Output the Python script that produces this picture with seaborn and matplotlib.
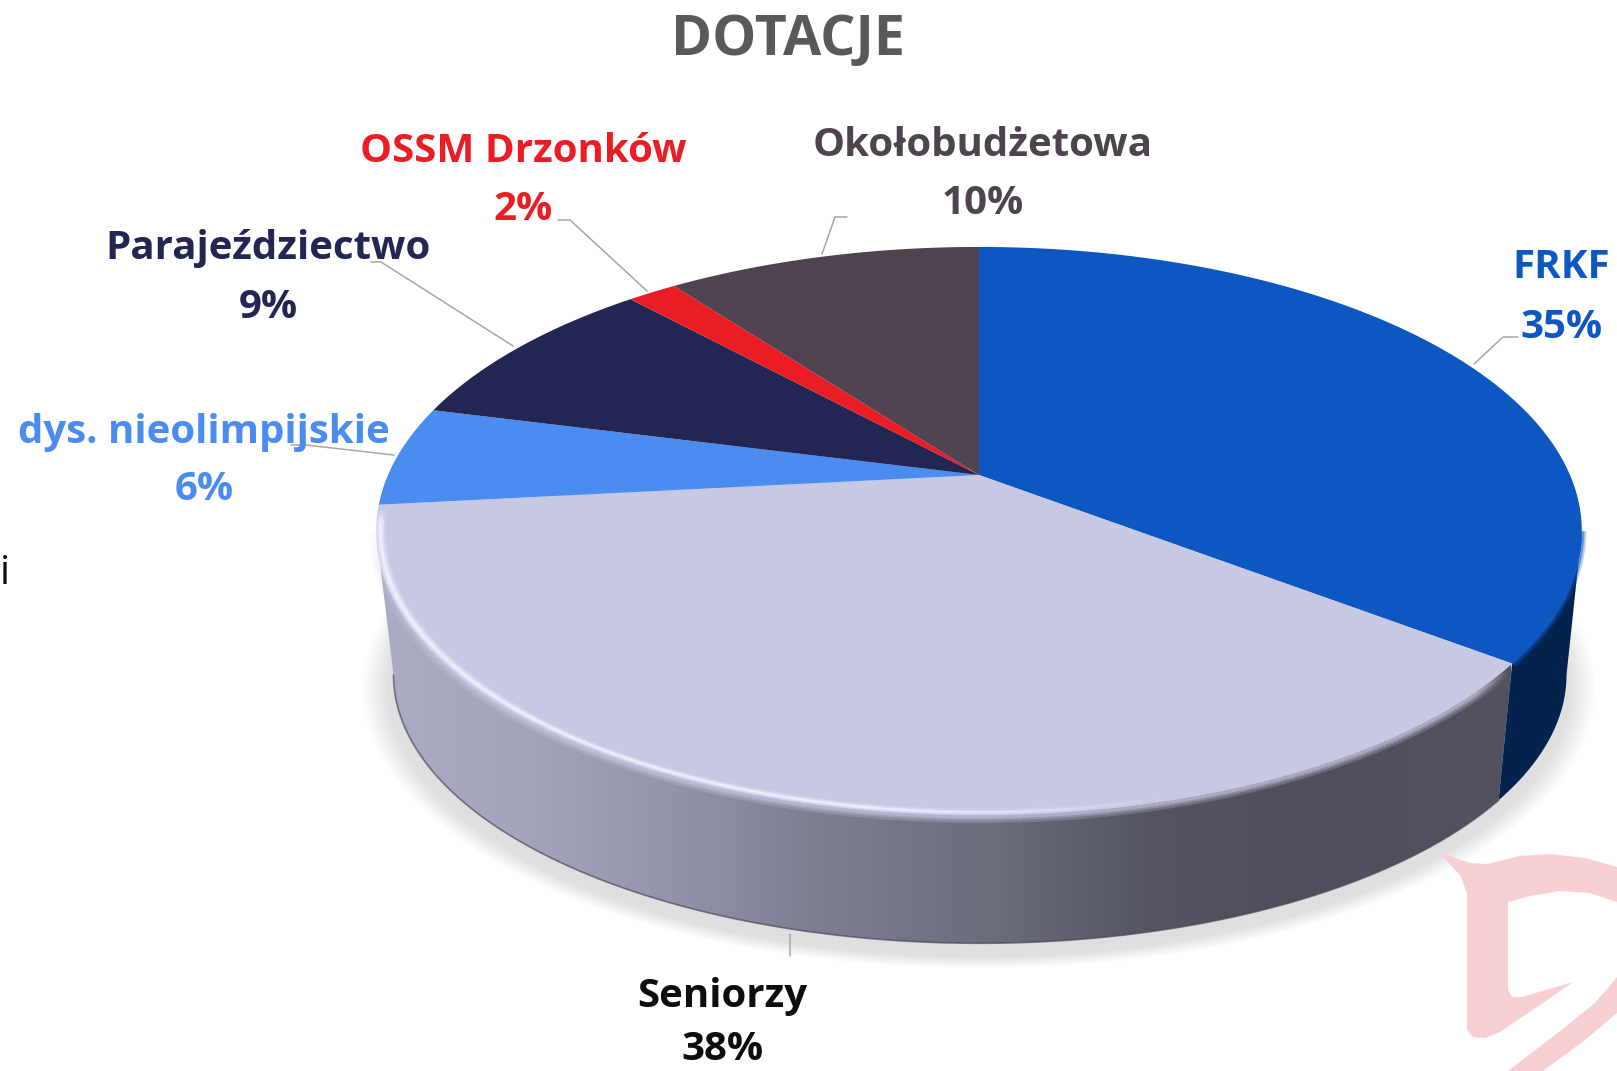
import numpy as np
import seaborn as sns
import matplotlib.pyplot as plt
from matplotlib.collections import LineCollection
from matplotlib.colors import LinearSegmentedColormap, to_rgba
from matplotlib.patches import Polygon
from matplotlib.path import Path
from matplotlib.transforms import Transform

# Chart data
categories = ["FRKF", "Seniorzy", "dys. nieolimpijskie", "Parajeździectwo", "OSSM Drzonków", "Okołobudżetowa"]
values = [35.4, 37.9, 5.7, 9.2, 1.6, 10.2]
slice_colors = ["#0C57C2", "#C7C8E4", "#4A8CF0", "#232653", "#EB1C24", "#4F4350"]
label_colors = ["#0C57C2", "#0D0D0D", "#4A8CF0", "#232653", "#EB1C24", "#4F4350"]
title_text = "DOTACJE"

# Label centres in figure pixels (name line, percent line)
name_pos = [(1561, 268), (722, 997), (204, 433), (268, 248), (523, 151), (983, 146)]
pct_pos = [(1561, 327), (722, 1049), (204, 490), (268, 307), (523, 209), (983, 203)]

# Leader lines in figure pixels
leaders = [
    [(1474, 364), (1503, 337), (1518, 337)],
    [(790, 934), (790, 956)],
    [(394, 455), (306, 445), (291, 445)],
    [(513, 346), (381, 262), (371, 262)],
    [(647, 291), (570, 220), (558, 220)],
    [(822, 254), (835, 217), (847, 217)],
]

# Shading of the front wall, left to right
wall_stops_x = [377, 530, 700, 800, 1000, 1150, 1300, 1510]
wall_stops_c = ["#ABADC5", "#A3A3BB", "#8F90A7", "#7F8094", "#6A6B7B", "#555562", "#4F4E5B", "#53525E"]

# Pink logo in the corner
logo_outer = [(1438, 852), (1470, 863), (1487, 864), (1520, 856), (1550, 854), (1585, 858), (1617, 867),
              (1617, 902), (1590, 893), (1560, 891), (1530, 896), (1508, 902), (1508, 990), (1512, 997),
              (1522, 997), (1573, 982), (1540, 1005), (1500, 1032), (1485, 1038), (1473, 1037), (1467, 1030),
              (1467, 893), (1460, 875)]
logo_band = [(1617, 977), (1595, 1003), (1560, 1031), (1508, 1071), (1543, 1071), (1585, 1040), (1617, 1013)]

# Perspective of the disc: top face and bottom edge
TOP = dict(x0=979, y0=475, a=591, b=273)
BOTTOM = dict(x0=980, y0=622, a=575, b=258)
K = 0.197


def project(u, v, x0, y0, a, b):
    d = 1 + K * v
    return x0 + a * u / d, y0 - b * v / d


def rim(theta, face):
    t = np.radians(theta)
    x, y = project(np.cos(t), np.sin(t), **face)
    return np.column_stack([x, y])


class Perspective(Transform):
    input_dims = 2
    output_dims = 2
    is_affine = False
    has_inverse = False

    def transform_non_affine(self, values):
        values = np.asarray(values)
        x, y = project(values[:, 0], values[:, 1], **TOP)
        return np.column_stack([x, y])

    def transform_path_non_affine(self, path):
        pts = []
        for curve, order in path.iter_bezier():
            n = 2 if order == 1 else 24
            pts.append(curve(np.linspace(0, 1, n)))
        return Path(self.transform_non_affine(np.vstack(pts)))


sns.set_theme(style="white")
plt.rcParams["font.family"] = ["Open Sans", "DejaVu Sans"]

fig = plt.figure(figsize=(16.17, 10.71), dpi=100)
ax = fig.add_axes([0, 0, 1, 1])

wedges, _ = ax.pie(values, startangle=90, counterclock=False, colors=sns.color_palette(slice_colors),
                   wedgeprops={"linewidth": 0, "zorder": 3})
for w in wedges:
    w.set_transform(Perspective() + ax.transData)

ax.set_aspect("auto")
ax.set_axis_off()

# Boundaries taken from the cumulative shares
cum = 90 - 3.6 * np.cumsum(values)
frkf_end = cum[0]
sen_end = cum[1]
right_edge = -11.4
left_edge = -168.6

# Soft shadow under the disc
yy, xx = np.mgrid[0:1071, 0:1617]
r = np.sqrt(((xx - 978) / 590.0) ** 2 + ((yy - 688) / 268.0) ** 2)
shade = np.clip((1.045 - r) / 0.045, 0, 1)
rgba = np.ones(r.shape + (4,)) * 0.875
rgba[..., 3] = shade
ax.imshow(rgba, extent=(0, 1617, 1071, 0), aspect="auto", zorder=0)

# Logo
ax.add_patch(Polygon(logo_outer, closed=True, fc="#F8D0D3", ec="none", zorder=0.5))
ax.add_patch(Polygon(logo_band, closed=True, fc="#F8D0D3", ec="none", zorder=0.5))

# Front wall with horizontal shading
th = np.linspace(frkf_end, left_edge, 200)
wall = Polygon(np.vstack([rim(th, TOP), rim(th[::-1], BOTTOM)]), closed=True, fc="none", ec="none",
               transform=ax.transData)
ax.add_patch(wall)
stops = (np.array(wall_stops_x) - wall_stops_x[0]) / (wall_stops_x[-1] - wall_stops_x[0])
cmap = LinearSegmentedColormap.from_list("wall", list(zip(stops, wall_stops_c)))
img = ax.imshow(np.linspace(0, 1, 512).reshape(1, -1), cmap=cmap, aspect="auto", zorder=1,
                extent=(wall_stops_x[0], wall_stops_x[-1], 960, 500))
img.set_clip_path(wall)

# Right wall below the FRKF slice
th2 = np.linspace(right_edge, frkf_end, 60)
ax.fill(*np.vstack([rim(th2, TOP), rim(th2[::-1], BOTTOM)]).T, color="#03234F", lw=0, zorder=1.2)

ax.set_xlim(0, 1617)
ax.set_ylim(1071, 0)

# Dark line at the foot of the wall
foot = rim(np.linspace(frkf_end, left_edge, 200), BOTTOM)
ax.plot(foot[:, 0], foot[:, 1], color="#4A4A5C", lw=1.2, alpha=0.7, zorder=1.5)


def stroke(points, colors, widths):
    segs = np.stack([points[:-1], points[1:]], axis=1)
    lc = LineCollection(segs, colors=colors, linewidths=widths, capstyle="butt", zorder=4)
    ax.add_collection(lc)


def taper(n, head, tail):
    t = np.arange(n)
    return np.clip(t / max(head, 1), 0, 1) * np.clip((n - 1 - t) / max(tail, 1), 0, 1)


# Blur of the face colour into the wall
th3 = np.linspace(frkf_end - 0.8, left_edge, 300)
pts = rim(th3, TOP)
env = taper(len(pts) - 1, 12, 70)
for lw_px, al in [(16, 0.25), (11, 0.35), (7, 0.5)]:
    stroke(pts, [to_rgba("#C7C8E4", al * e) for e in env], lw_px * 0.72)

# Highlight just inside the rim
th5 = np.linspace(frkf_end, sen_end + 0.6, 300)
inner = rim(th5, TOP)
inner[:, 0] = 979 + (inner[:, 0] - 979) * 0.993
inner[:, 1] = 531 + (inner[:, 1] - 531) * 0.990
mid_x = inner[:-1, 0]
fade = np.clip((1180 - mid_x) / 330, 0, 1) * taper(len(inner) - 1, 1, 6)
grow = np.clip((600 - mid_x) / 220, 0, 1)
for base, extra, al in [(7, 4, 0.25), (4, 3, 0.45), (2, 1, 0.85)]:
    stroke(inner, [to_rgba("#F0F1FF", al * f) for f in fade], (base + extra * grow) * 0.72)

th4 = np.linspace(right_edge, frkf_end, 100)
pts = rim(th4, TOP)
for lw_px, al in [(9, 0.3), (5, 0.5)]:
    stroke(pts, [to_rgba("#0C57C2", al)] * (len(pts) - 1), lw_px * 0.72)

# Leader lines
for line in leaders:
    xs, ys = zip(*line)
    ax.plot(xs, ys, color="#A6A6A6", lw=1.1, zorder=5)

# Labels
for name, val, col, p1, p2 in zip(categories, values, label_colors, name_pos, pct_pos):
    ax.text(p1[0], p1[1], name, color=col, fontsize=29, fontweight="bold", ha="center", va="center", zorder=6)
    ax.text(p2[0], p2[1], f"{round(val)}%", color=col, fontsize=29, fontweight="bold", ha="center", va="center", zorder=6)

ax.text(788, 40, title_text, color="#595959", fontsize=40, fontweight="bold", ha="center", va="center", zorder=6)
ax.text(5, 574, "i", color="#0D0D0D", fontsize=29, ha="center", va="center", zorder=6)

fig.savefig("out.png", dpi=100)
